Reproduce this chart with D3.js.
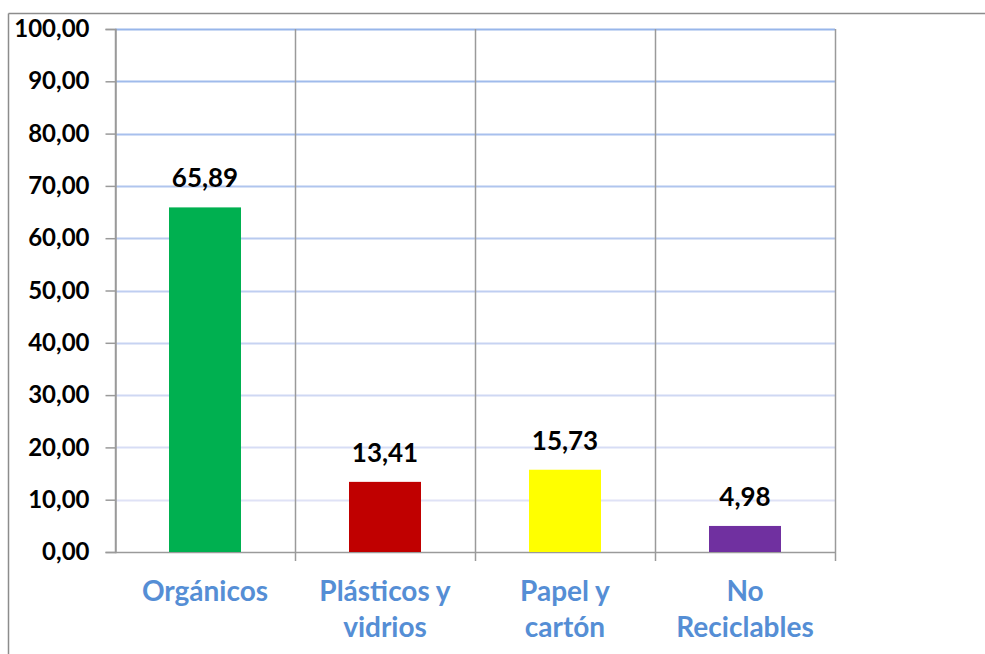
<!DOCTYPE html>
<html>
<head>
<meta charset="utf-8">
<script src="https://cdn.jsdelivr.net/npm/d3@7"></script>
<style>
  body { margin: 0; background: #fff; }
  svg { display: block; }
  text { font-family: Lato, "Open Sans", sans-serif; font-weight: bold; }
</style>
</head>
<body>
<svg id="chart" width="985" height="654"></svg>
<script>
const categories = [["Orgánicos"], ["Plásticos y", "vidrios"], ["Papel y", "cartón"], ["No", "Reciclables"]];
const categoryKeys = ["Orgánicos", "Plásticos y vidrios", "Papel y cartón", "No Reciclables"];
const values = [65.89, 13.41, 15.73, 4.98];
const barColors = ["#00b050", "#c00000", "#ffff00", "#7030a0"];
const yTicks = [0, 10, 20, 30, 40, 50, 60, 70, 80, 90, 100];

(function () {
const svg = d3.select("#chart");
const pL = 115, pR = 835, pT = 29, pB = 552;
const fmt = v => d3.format(".2f")(v).replace(".", ",");

// outer frame (top and left edges visible)
svg.append("line").attr("x1", 8.5).attr("x2", 985).attr("y1", 13.5).attr("y2", 13.5)
  .attr("stroke", "#8c8c8c").attr("stroke-width", 1.5);
svg.append("line").attr("x1", 8.5).attr("x2", 8.5).attr("y1", 13.5).attr("y2", 654)
  .attr("stroke", "#8c8c8c").attr("stroke-width", 1.5);

const x = d3.scaleBand().domain(categoryKeys).range([pL, pR]).paddingInner(0).paddingOuter(0);
const y = d3.scaleLinear().domain([0, 100]).range([pB, pT]);
const gridColor = d3.scaleLinear().domain([10, 100]).range(["#dfe2f6", "#98b6ea"]);

// gridlines
svg.append("g").selectAll("line").data(yTicks.filter(d => d > 0)).join("line")
  .attr("x1", pL).attr("x2", pR)
  .attr("y1", d => Math.round(y(d)) + 0.5).attr("y2", d => Math.round(y(d)) + 0.5)
  .attr("stroke", d => gridColor(d)).attr("stroke-width", 1.8);

// vertical separators
const seps = categoryKeys.map(k => x(k)).concat([pR]);
svg.append("g").selectAll("line").data(seps).join("line")
  .attr("x1", d => d + 0.5).attr("x2", d => d + 0.5)
  .attr("y1", pT).attr("y2", (d, i) => i === 0 ? pB : pB + 9)
  .attr("stroke", "#9a9a9a").attr("stroke-width", 1.5);

// y axis
const yAxis = d3.axisLeft(y).tickValues(yTicks).tickSize(10).tickPadding(16).tickFormat(fmt);
const ya = svg.append("g").attr("transform", `translate(${pL + 0.5},0)`).call(yAxis);
ya.select(".domain").attr("stroke", "#9a9a9a").attr("stroke-width", 1.5);
ya.selectAll(".tick line").attr("stroke", "#9a9a9a").attr("stroke-width", 1.5);
ya.selectAll(".tick text").attr("fill", "#000").style("font-size", "24px").style("font-family", "Lato, sans-serif").style("font-weight", "bold");

// x axis baseline
svg.append("line").attr("x1", pL).attr("x2", pR).attr("y1", pB + 0.5).attr("y2", pB + 0.5)
  .attr("stroke", "#9a9a9a").attr("stroke-width", 1.5);

// bars
const bw = 72;
svg.append("g").selectAll("rect").data(values).join("rect")
  .attr("x", (d, i) => x(categoryKeys[i]) + x.bandwidth() / 2 - bw / 2)
  .attr("width", bw)
  .attr("y", d => y(d))
  .attr("height", d => pB - y(d))
  .attr("fill", (d, i) => barColors[i]);

// value labels
svg.append("g").selectAll("text").data(values).join("text")
  .attr("x", (d, i) => x(categoryKeys[i]) + x.bandwidth() / 2)
  .attr("y", d => y(d) - 20)
  .attr("text-anchor", "middle")
  .attr("fill", "#000")
  .style("font-size", "26px")
  .text(d => fmt(d));

// category labels
const cl = svg.append("g").selectAll("text").data(categories).join("text")
  .attr("x", (d, i) => x(categoryKeys[i]) + x.bandwidth() / 2)
  .attr("y", 601)
  .attr("text-anchor", "middle")
  .attr("fill", "#558ed5")
  .style("font-size", "28px");
cl.each(function(d) {
  const t = d3.select(this);
  d.forEach((line, j) => {
    t.append("tspan").attr("x", t.attr("x")).attr("dy", j === 0 ? 0 : 36).text(line);
  });
});
})();
</script>
</body>
</html>
